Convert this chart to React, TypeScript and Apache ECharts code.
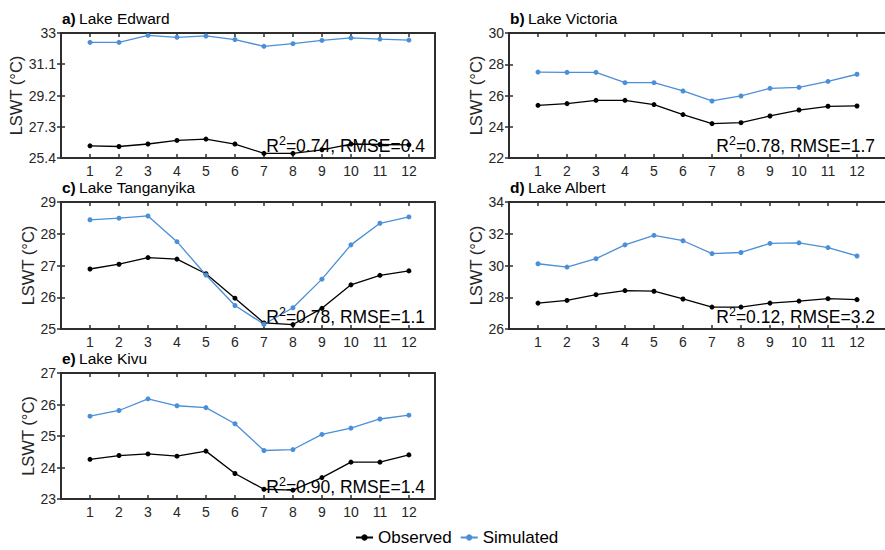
import React, { useEffect, useRef } from "react";
import * as echarts from "echarts";

const months = [1, 2, 3, 4, 5, 6, 7, 8, 9, 10, 11, 12];

const edwardObs = [26.14, 26.1, 26.25, 26.47, 26.55, 26.25, 25.68, 25.68, 25.9, 26.25, 26.22, 26.2];
const edwardSim = [32.43, 32.43, 32.86, 32.74, 32.82, 32.6, 32.19, 32.35, 32.55, 32.7, 32.63, 32.57];
const victoriaObs = [25.37, 25.48, 25.69, 25.69, 25.42, 24.78, 24.2, 24.26, 24.69, 25.07, 25.31, 25.33];
const victoriaSim = [27.5, 27.48, 27.48, 26.82, 26.82, 26.29, 25.65, 25.97, 26.46, 26.52, 26.9, 27.36];
const tanganyikaObs = [26.89, 27.04, 27.25, 27.2, 26.74, 25.97, 25.19, 25.14, 25.65, 26.39, 26.69, 26.83];
const tanganyikaSim = [28.44, 28.49, 28.56, 27.75, 26.7, 25.74, 25.15, 25.67, 26.57, 27.65, 28.33, 28.53];
const albertObs = [27.63, 27.8, 28.16, 28.42, 28.38, 27.89, 27.38, 27.38, 27.63, 27.76, 27.91, 27.85];
const albertSim = [30.11, 29.9, 30.43, 31.3, 31.9, 31.56, 30.75, 30.82, 31.39, 31.43, 31.13, 30.6];
const kivuObs = [24.26, 24.38, 24.43, 24.36, 24.52, 23.81, 23.31, 23.28, 23.68, 24.17, 24.17, 24.4];
const kivuSim = [25.63, 25.81, 26.18, 25.96, 25.9, 25.39, 24.54, 24.57, 25.05, 25.25, 25.54, 25.66];

const edwardTicks = [25.4, 27.3, 29.2, 31.1, 33];
const victoriaTicks = [22, 24, 26, 28, 30];
const tanganyikaTicks = [25, 26, 27, 28, 29];
const albertTicks = [26, 28, 30, 32, 34];
const kivuTicks = [23, 24, 25, 26, 27];

const panelLetters = ["a)", "b)", "c)", "d)", "e)"];
const lakeNames = ["Lake Edward", "Lake Victoria", "Lake Tanganyika", "Lake Albert", "Lake Kivu"];
const r2Values = ["0.74", "0.78", "0.78", "0.12", "0.90"];
const rmseValues = ["0.4", "1.7", "1.1", "3.2", "1.4"];

const FONT = "'Liberation Sans', Arial, Helvetica, sans-serif";
const BLUE = "#4a8fd8";
const DARK = "#262626";

// layout (positions / sizes)
const layouts = [
  { left: 61, top: 33, width: 374, height: 125, xMax: 12.9, nameGap: 34 },
  { left: 509, top: 33, width: 377, height: 125, xMax: 13, nameGap: 20 },
  { left: 61, top: 202, width: 374, height: 127, xMax: 12.9, nameGap: 24 },
  { left: 509, top: 202, width: 377, height: 127, xMax: 13, nameGap: 20 },
  { left: 61, top: 373, width: 374, height: 126, xMax: 12.9, nameGap: 24 },
];

const obsList = [edwardObs, victoriaObs, tanganyikaObs, albertObs, kivuObs];
const simList = [edwardSim, victoriaSim, tanganyikaSim, albertSim, kivuSim];
const tickList = [edwardTicks, victoriaTicks, tanganyikaTicks, albertTicks, kivuTicks];

export default function App() {
  const ref = useRef<HTMLDivElement>(null);
  useEffect(() => {
    if (!ref.current) return;
    const chart = echarts.init(ref.current, undefined, { renderer: "svg" });

    const grids: any[] = [];
    const xAxes: any[] = [];
    const yAxes: any[] = [];
    const series: any[] = [];
    const graphics: any[] = [];

    layouts.forEach((L, i) => {
      const ticks = tickList[i];
      grids.push({
        left: L.left,
        top: L.top,
        width: L.width,
        height: L.height,
        show: true,
        borderColor: "#2e2e2e",
        borderWidth: 2,
        backgroundColor: "transparent",
        containLabel: false,
        outerBoundsMode: "none",
      });
      const tickStyle = { show: true, inside: true, length: 4, lineStyle: { color: "#2e2e2e", width: 1.5 } };
      xAxes.push({
        type: "value",
        gridIndex: i,
        min: 0,
        max: L.xMax,
        position: "bottom",
        axisLine: { show: false },
        splitLine: { show: false },
        axisTick: { ...tickStyle, customValues: months },
        axisLabel: {
          customValues: months,
          margin: 6,
          fontSize: 14,
          color: DARK,
          fontFamily: FONT,
        },
      });
      xAxes.push({
        type: "value",
        gridIndex: i,
        min: 0,
        max: L.xMax,
        position: "top",
        axisLine: { show: false },
        splitLine: { show: false },
        axisTick: { ...tickStyle, customValues: months },
        axisLabel: { show: false },
      });
      yAxes.push({
        type: "value",
        gridIndex: i,
        min: ticks[0],
        max: ticks[ticks.length - 1],
        position: "left",
        axisLine: { show: false },
        splitLine: { show: false },
        axisTick: { ...tickStyle, customValues: ticks },
        axisLabel: {
          customValues: ticks,
          margin: 5,
          fontSize: 14,
          color: DARK,
          fontFamily: FONT,
          formatter: (v: number) => String(Math.round(v * 10) / 10),
        },
        name: "LSWT (°C)",
        nameLocation: "middle",
        nameGap: L.nameGap,
        nameTextStyle: { fontSize: 16.5, color: DARK, fontFamily: FONT },
      });
      yAxes.push({
        type: "value",
        gridIndex: i,
        min: ticks[0],
        max: ticks[ticks.length - 1],
        position: "right",
        axisLine: { show: false },
        splitLine: { show: false },
        axisTick: { ...tickStyle, customValues: ticks },
        axisLabel: { show: false },
      });

      const common = {
        type: "line",
        xAxisIndex: 2 * i,
        yAxisIndex: 2 * i,
        symbol: "circle",
        symbolSize: 5,
        showSymbol: true,
        z: 3,
      };
      series.push({
        ...common,
        name: "Observed",
        data: months.map((m, k) => [m, obsList[i][k]]),
        lineStyle: { color: "#000", width: 1.3 },
        itemStyle: { color: "#000" },
      });
      series.push({
        ...common,
        name: "Simulated",
        data: months.map((m, k) => [m, simList[i][k]]),
        lineStyle: { color: BLUE, width: 1.3 },
        itemStyle: { color: BLUE },
      });

      // title
      graphics.push({
        type: "text",
        x: L.left + 1,
        y: L.top - 14.5,
        style: {
          text: `{b|${panelLetters[i]}} {n|${lakeNames[i]}}`,
          verticalAlign: "middle",
          align: "left",
          rich: {
            b: { fontSize: 15.5, fontWeight: "bold", fontFamily: FONT, fill: "#000" },
            n: { fontSize: 15.5, fontFamily: FONT, fill: "#000" },
          },
        },
        z: 10,
      });
      // annotation
      const rightEdge = i % 2 === 0 ? 425 : 875;
      graphics.push({
        type: "text",
        x: rightEdge,
        y: L.top + L.height - 1.5,
        style: {
          text: `{n|R}{s|2}{n|=${r2Values[i]}, RMSE=${rmseValues[i]}}`,
          align: "right",
          verticalAlign: "bottom",
          rich: {
            n: { fontSize: 17.5, fontFamily: FONT, fill: "#000", lineHeight: 22 },
            s: { fontSize: 12.5, fontFamily: FONT, fill: "#000", lineHeight: 13, verticalAlign: "top" },
          },
        },
        z: 10,
      });
    });

    chart.setOption({
      animation: false,
      grid: grids,
      xAxis: xAxes,
      yAxis: yAxes,
      series,
      graphic: graphics,
      legend: {
        data: ["Observed", "Simulated"],
        left: 350,
        top: 524,
        itemWidth: 17,
        itemHeight: 8,
        itemGap: 8,
        textStyle: { fontSize: 17, color: "#000", fontFamily: FONT },
      },
    });
    return () => chart.dispose();
  }, []);
  return (
    <div
      ref={ref}
      style={{ position: "fixed", left: 0, top: 0, width: 885, height: 550, background: "#fff" }}
    />
  );
}
